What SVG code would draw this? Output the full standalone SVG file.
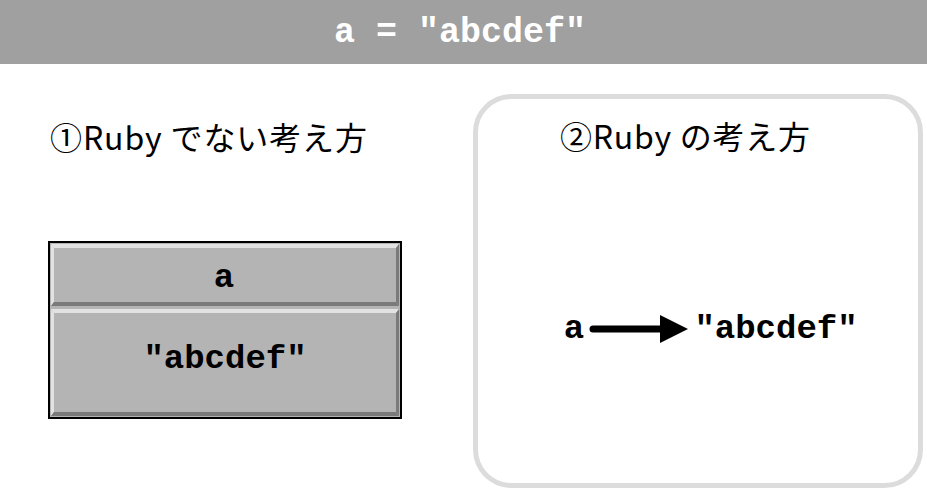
<svg xmlns="http://www.w3.org/2000/svg" width="927" height="492" viewBox="0 0 927 492">
<style>
.mono{font-family:"Liberation Mono","DejaVu Sans Mono",monospace;font-weight:bold;font-size:34px;}
.title{font-family:"Noto Sans CJK JP","Noto Sans",sans-serif;font-size:32px;fill:#000;}
.panel{fill:#b4b4b4;}
.lt{fill:#e2e2e2;}
.dk{fill:#7a7a7a;}
</style>
<rect width="927" height="492" fill="#fff"/>
<g id="header">
<rect x="0" y="0" width="927" height="64" fill="#a0a0a0"/>
<text class="mono" x="460" y="42" text-anchor="middle" fill="#fff" style="font-size:35px">a = "abcdef"</text>
</g>
<g id="title1">
<text class="title" x="50" y="150" textLength="317" lengthAdjust="spacing">①Ruby でない考え方</text>
</g>
<g id="panel2">
<rect x="475.5" y="96.5" width="445" height="389" rx="36" fill="none" stroke="#dcdcdc" stroke-width="5"/>
<text class="title" x="560" y="149" textLength="250" lengthAdjust="spacing">②Ruby の考え方</text>
</g>
<g id="box">
<rect x="49" y="242" width="352" height="176" fill="#b4b4b4" stroke="#000" stroke-width="2"/>
<g id="cell-a">
<rect class="panel" x="51" y="244" width="348" height="62"/>
<polygon class="lt" points="51,244 399,244 396,248 54,248"/>
<polygon class="lt" points="51,244 54,248 54,302 51,306"/>
<polygon class="dk" points="51,306 54,302 396,302 399,306"/>
<polygon class="dk" points="399,244 399,306 396,302 396,248"/>
<text class="mono" x="224" y="287" text-anchor="middle">a</text>
</g>
<g id="cell-str">
<rect class="panel" x="51" y="309" width="348" height="107"/>
<polygon class="lt" points="51,309 399,309 396,313 54,313"/>
<polygon class="lt" points="51,309 54,313 54,412 51,416"/>
<polygon class="dk" points="51,416 54,412 396,412 399,416"/>
<polygon class="dk" points="399,309 399,416 396,412 396,313"/>
<text class="mono" x="225" y="368" text-anchor="middle">"abcdef"</text>
</g>
</g>
<g id="var-a">
<text class="mono" x="574" y="338" text-anchor="middle">a</text>
</g>
<g id="obj-str">
<text class="mono" x="776" y="338" text-anchor="middle">"abcdef"</text>
</g>
<g id="connectors">
<line x1="593" y1="329" x2="662" y2="329" stroke="#000" stroke-width="7" stroke-linecap="round"/>
<polygon points="660,315 688,329 660,343" fill="#000"/>
</g>
</svg>
